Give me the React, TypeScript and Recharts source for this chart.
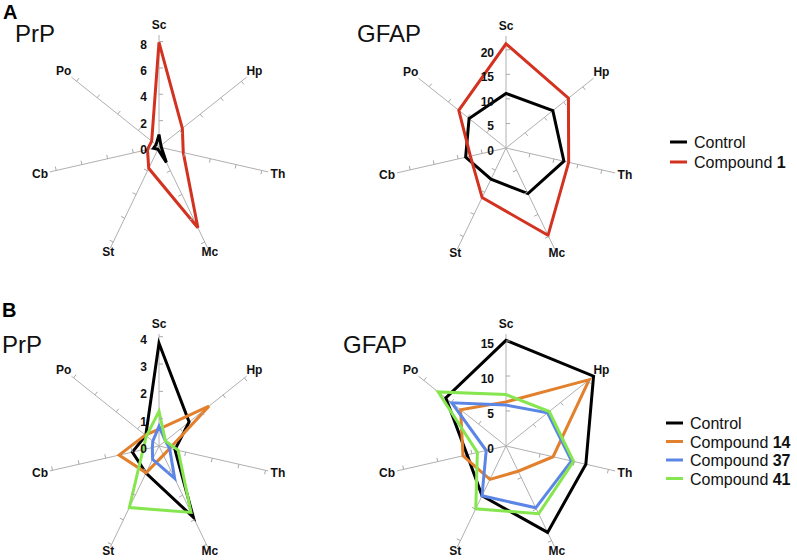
import React from "react";
import { RadarChart, Radar, PolarGrid, PolarAngleAxis, PolarRadiusAxis } from "recharts";

// --- Data ---

const REGIONS = ["Sc", "Hp", "Th", "Mc", "St", "Cb", "Po"];

// panel A, PrP
const A_PRP_CONTROL = [1.0, 0.2, 0.2, 1.37, 0.2, 0.45, 0.3];
const A_PRP_COMPOUND_1 = [8.4, 2.4, 2.0, 7.2, 1.9, 0.95, 0.75];
const A_PRP_TICKS = [0, 2, 4, 6, 8];

// panel A, GFAP
const A_GFAP_CONTROL = [11.2, 12.3, 12.2, 10.4, 7.1, 8.5, 9.7];
const A_GFAP_COMPOUND_1 = [21.4, 16.4, 13.2, 19.9, 11.3, 7.5, 12.4];
const A_GFAP_TICKS = [0, 5, 10, 15, 20];

// panel B, PrP
const B_PRP_CONTROL = [3.76, 1.41, 0.6, 2.9, 1.1, 1.0, 0.62];
const B_PRP_COMPOUND_14 = [0.62, 2.34, 0.4, 0.37, 1.09, 1.5, 0.64];
const B_PRP_COMPOUND_37 = [0.72, 0.3, 0.4, 1.32, 0.54, 0.25, 0.29];
const B_PRP_COMPOUND_41 = [1.27, 0.3, 0.72, 2.7, 2.5, 0.6, 0.59];
const B_PRP_TICKS = [0, 1, 2, 3, 4];

// panel B, GFAP
const B_GFAP_CONTROL = [15.1, 16.0, 11.7, 13.7, 7.9, 5.7, 11.0];
const B_GFAP_COMPOUND_14 = [6.3, 15.2, 6.9, 4.0, 5.3, 6.3, 8.3];
const B_GFAP_COMPOUND_37 = [5.85, 7.6, 9.6, 9.8, 7.9, 2.9, 9.9];
const B_GFAP_COMPOUND_41 = [7.35, 7.9, 9.9, 10.75, 9.95, 4.2, 12.4];
const B_GFAP_TICKS = [0, 5, 10, 15];

const LEGEND_A = ["Control", "1"];
const LEGEND_B = ["Control", "14", "37", "41"];

const BLACK = "#000000";
const RED = "#d2321f";
const ORANGE = "#e2802d";
const BLUE = "#5b86e6";
const GREEN = "#86e64f";

const FONT = "Arial, 'Liberation Sans', Helvetica, sans-serif";
const W = 300;
const H = 280;
const CX = 150;
const CY = 140;
const OUTER = 112;

type Series = { key: string; values: number[]; color: string };

function RadarPanel({ left, top, max, ticks, series }: { left: number; top: number; max: number; ticks: number[]; series: Series[] }) {
  const rows = REGIONS.map((region, i) => {
    const row: Record<string, string | number> = { region };
    series.forEach((s) => (row[s.key] = s.values[i]));
    return row;
  });
  const rOf = (v: number) => (v / max) * OUTER;

  const angleTick = (props: any) => {
    const { payload, index } = props;
    const deg = typeof payload?.coordinate === "number" ? payload.coordinate : 90 - (index * 360) / REGIONS.length;
    const rad = (deg * Math.PI) / 180;
    const ux = Math.cos(rad);
    const uy = -Math.sin(rad);
    // tick marks sit on the clockwise side of each spoke
    const px = -uy;
    const py = ux;
    // labels below the centre sit a little closer in
    const lr = uy > 0.5 ? 117 : 122;
    return (
      <g>
        {ticks.filter((v) => v > 0).map((v) => {
          const x = CX + ux * rOf(v);
          const y = CY + uy * rOf(v);
          return <line key={v} x1={x} y1={y} x2={x + px * 4} y2={y + py * 4} stroke="#a8a8a8" strokeWidth={1} />;
        })}
        <text x={CX + ux * lr} y={CY + uy * lr} textAnchor="middle" dominantBaseline="central" fontFamily={FONT} fontWeight="bold" fontSize={12} fill="#111">
          {payload.value}
        </text>
        {index === 0 &&
          ticks.map((v) => (
            <text key={"r" + v} x={CX - 12} y={CY - rOf(v) + 3} textAnchor="end" dominantBaseline="central" fontFamily={FONT} fontWeight="bold" fontSize={12} fill="#111">
              {v}
            </text>
          ))}
      </g>
    );
  };

  return (
    <div style={{ position: "absolute", left, top, width: W, height: H }}>
      <RadarChart width={W} height={H} data={rows} cx={CX} cy={CY} outerRadius={OUTER} margin={{ top: 0, right: 0, bottom: 0, left: 0 }}>
        <PolarGrid gridType="polygon" polarRadius={[]} stroke="#b0b0b0" strokeWidth={1} />
        <PolarAngleAxis dataKey="region" axisLine={false} tickLine={false} tick={angleTick} />
        <PolarRadiusAxis domain={[0, max]} allowDataOverflow angle={90} tick={false} axisLine={false} />
        {series.map((s) => (
          <Radar key={s.key} dataKey={s.key} stroke={s.color} strokeWidth={3} fill="none" fillOpacity={0} strokeLinejoin="miter" dot={false} isAnimationActive={false} />
        ))}
      </RadarChart>
    </div>
  );
}

function Legend({ x, y, step, names, colors }: { x: number; y: number; step: number; names: string[]; colors: string[] }) {
  return (
    <g>
      {names.map((n, i) => (
        <g key={n}>
          <line x1={x} y1={y + i * step} x2={x + 17} y2={y + i * step} stroke={colors[i]} strokeWidth={3} />
          <text x={x + 24} y={y + i * step + 6} fontFamily={FONT} fontSize={16} fill="#111">
            {n === "Control" ? (
              "Control"
            ) : (
              <>
                {"Compound "}
                <tspan fontWeight="bold">{n}</tspan>
              </>
            )}
          </text>
        </g>
      ))}
    </g>
  );
}

export default function App() {
  return (
    <div style={{ position: "absolute", left: 0, top: 0, width: 797, height: 560, background: "#fff", overflow: "hidden" }}>
      <RadarPanel
        left={159 - CX}
        top={147 - CY}
        max={8.5}
        ticks={A_PRP_TICKS}
        series={[
          { key: "control", values: A_PRP_CONTROL, color: BLACK },
          { key: "c1", values: A_PRP_COMPOUND_1, color: RED },
        ]}
      />
      <RadarPanel
        left={506 - CX}
        top={148 - CY}
        max={22.8}
        ticks={A_GFAP_TICKS}
        series={[
          { key: "control", values: A_GFAP_CONTROL, color: BLACK },
          { key: "c1", values: A_GFAP_COMPOUND_1, color: RED },
        ]}
      />
      <RadarPanel
        left={159 - CX}
        top={446 - CY}
        max={4.1}
        ticks={B_PRP_TICKS}
        series={[
          { key: "control", values: B_PRP_CONTROL, color: BLACK },
          { key: "c14", values: B_PRP_COMPOUND_14, color: ORANGE },
          { key: "c37", values: B_PRP_COMPOUND_37, color: BLUE },
          { key: "c41", values: B_PRP_COMPOUND_41, color: GREEN },
        ]}
      />
      <RadarPanel
        left={506 - CX}
        top={446 - CY}
        max={16}
        ticks={B_GFAP_TICKS}
        series={[
          { key: "control", values: B_GFAP_CONTROL, color: BLACK },
          { key: "c14", values: B_GFAP_COMPOUND_14, color: ORANGE },
          { key: "c37", values: B_GFAP_COMPOUND_37, color: BLUE },
          { key: "c41", values: B_GFAP_COMPOUND_41, color: GREEN },
        ]}
      />
      <svg width={797} height={560} style={{ position: "absolute", left: 0, top: 0, pointerEvents: "none" }}>
        <text x={3} y={19} fontFamily={FONT} fontWeight="bold" fontSize={20} fill="#000">A</text>
        <text x={15} y={42} fontFamily={FONT} fontSize={24} fill="#111">PrP</text>
        <text x={357} y={42} fontFamily={FONT} fontSize={24} fill="#111">GFAP</text>
        <text x={2} y={317} fontFamily={FONT} fontWeight="bold" fontSize={20} fill="#000">B</text>
        <text x={2} y={353} fontFamily={FONT} fontSize={24} fill="#111">PrP</text>
        <text x={343} y={353} fontFamily={FONT} fontSize={24} fill="#111">GFAP</text>
        <Legend x={670} y={142} step={20} names={LEGEND_A} colors={[BLACK, RED]} />
        <Legend x={666} y={423} step={18.5} names={LEGEND_B} colors={[BLACK, ORANGE, BLUE, GREEN]} />
      </svg>
    </div>
  );
}
